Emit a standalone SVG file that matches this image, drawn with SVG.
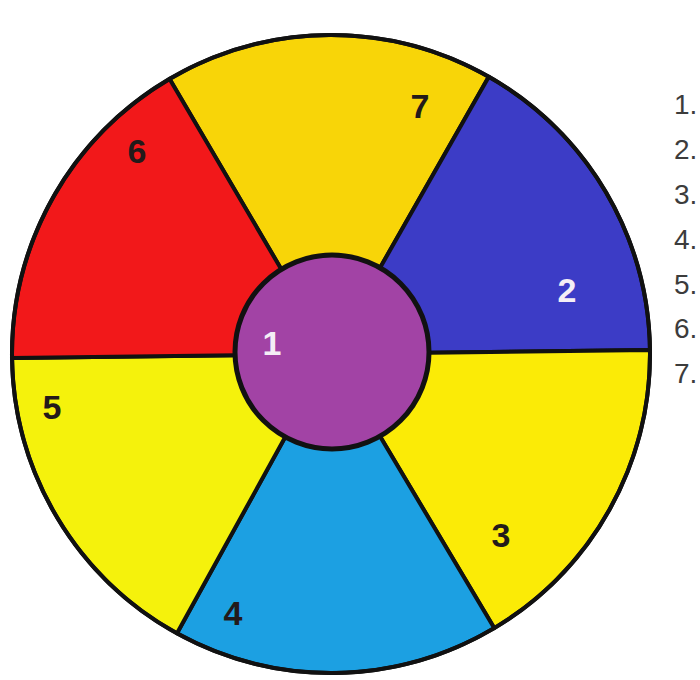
<svg xmlns="http://www.w3.org/2000/svg" width="700" height="680" viewBox="0 0 700 680">
  <style>
    .sec { stroke: #111; stroke-width: 4; stroke-linejoin: round; }
    .num { font-family: "Liberation Sans", Arial, sans-serif; font-weight: bold; font-size: 34px; text-anchor: middle; fill: #231a1a; }
    .wnum { fill: #f4eef6; }
    .lst { font-family: "Liberation Sans", Arial, sans-serif; font-size: 28px; fill: #3c3c3c; }
  </style>
  <rect width="700" height="680" fill="#ffffff"/>
  <g id="seg7">
    <path class="sec" d="M331,354 L169.6,78.9 A319,319 0 0 1 488.8,76.8 Z" fill="#f8d508"/>
    <text class="num" x="420" y="118">7</text>
  </g>
  <g id="seg2">
    <path class="sec" d="M331,354 L488.8,76.8 A319,319 0 0 1 650,350 Z" fill="#3c3cc6"/>
    <text class="num wnum" x="567" y="302">2</text>
  </g>
  <g id="seg3">
    <path class="sec" d="M331,354 L650,350 A319,319 0 0 1 494.2,628.1 Z" fill="#fbeb06"/>
    <text class="num" x="501" y="547">3</text>
  </g>
  <g id="seg4">
    <path class="sec" d="M331,354 L494.2,628.1 A319,319 0 0 1 177,633.3 Z" fill="#1ca0e2"/>
    <text class="num" x="233" y="625">4</text>
  </g>
  <g id="seg5">
    <path class="sec" d="M331,354 L177,633.3 A319,319 0 0 1 12,358 Z" fill="#f5f20c"/>
    <text class="num" x="52" y="419">5</text>
  </g>
  <g id="seg6">
    <path class="sec" d="M331,354 L12,358 A319,319 0 0 1 169.6,78.9 Z" fill="#f2181a"/>
    <text class="num" x="137" y="163">6</text>
  </g>
  <g id="connectors">
    <circle cx="331" cy="354" r="319" fill="none" stroke="#111" stroke-width="4"/>
  </g>
  <g id="seg1">
    <circle cx="332" cy="352" r="97" fill="#a243a5" stroke="#111" stroke-width="5"/>
    <text class="num wnum" x="272" y="355">1</text>
  </g>
  <g id="legend">
    <text class="lst" x="674" y="114">1.</text>
    <text class="lst" x="674" y="159">2.</text>
    <text class="lst" x="674" y="204">3.</text>
    <text class="lst" x="674" y="249">4.</text>
    <text class="lst" x="674" y="294">5.</text>
    <text class="lst" x="674" y="338">6.</text>
    <text class="lst" x="674" y="383">7.</text>
  </g>
</svg>
